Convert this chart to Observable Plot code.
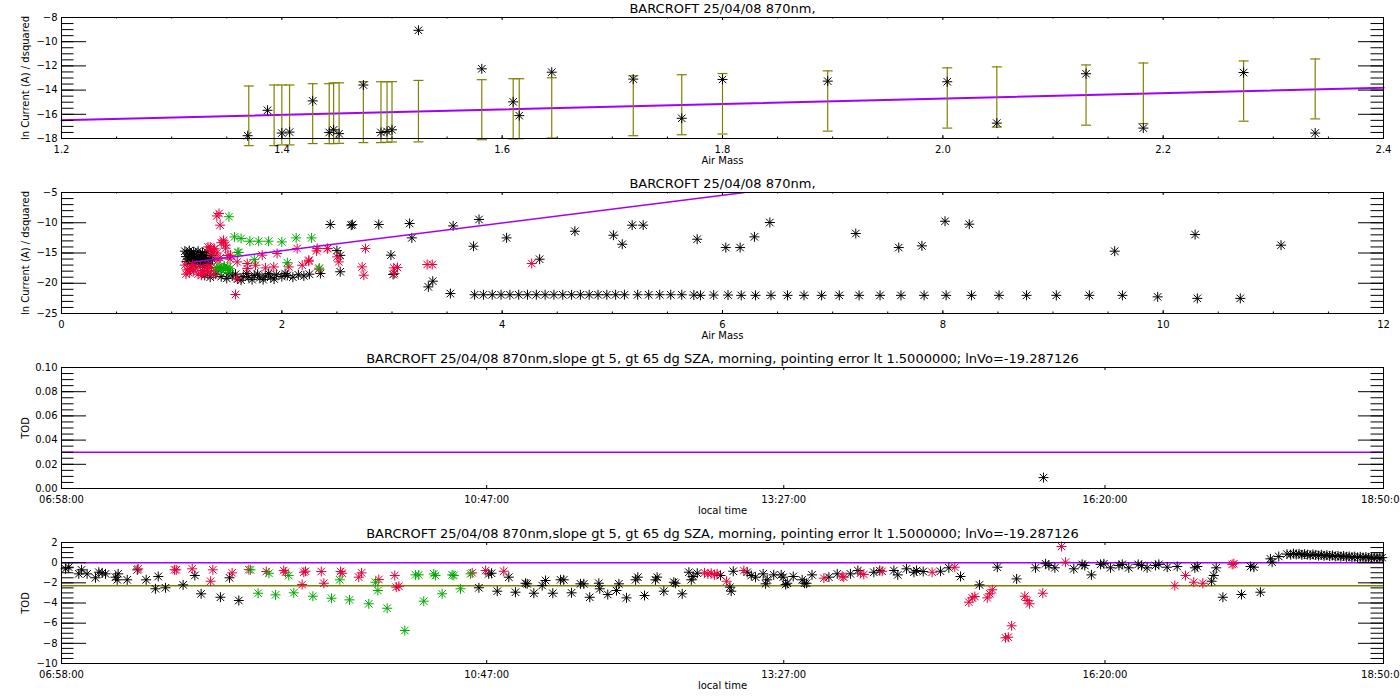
<!DOCTYPE html>
<html><head><meta charset="utf-8">
<script src="https://cdn.jsdelivr.net/npm/d3@7"></script>
<script src="https://cdn.jsdelivr.net/npm/@observablehq/plot@0.6"></script>
<style>
body{margin:0;background:#fff;}
#chart{position:relative;width:1400px;height:700px;overflow:hidden;background:#fff;}
#chart svg{position:absolute;left:0;}
</style></head><body><div id="chart"></div>
<script>
// ---------- texts ----------
const title1 = "BARCROFT 25/04/08 870nm,";
const title3 = "BARCROFT 25/04/08 870nm,slope gt 5, gt 65 dg SZA, morning, pointing error lt 1.5000000; lnVo=-19.287126";
const yLabelA = "ln Current (A) / dsquared";
const yLabelB = "TOD";
const xLabelA = "Air Mass";
const xLabelB = "local time";

// ---------- ticks ----------
const p1XTicks = [1.2, 1.4, 1.6, 1.8, 2.0, 2.2, 2.4];
const p1YTicks = [-18, -16, -14, -12, -10, -8];
const p2XTicks = [0, 2, 4, 6, 8, 10, 12];
const p2YTicks = [-25, -20, -15, -10, -5];
const p3YTicks = [0.00, 0.02, 0.04, 0.06, 0.08, 0.10];
const p4YTicks = [-10, -8, -6, -4, -2, 0, 2];
const timeTicks = [418, 647, 807, 980, 1130]; // minutes: 06:58, 10:47, 13:27, 16:20, 18:50

// ---------- panel 1: air mass vs ln current, with error bars ----------
const p1Points = [[1.369,-17.77],[1.387,-15.67],[1.400,-17.55],[1.407,-17.47],[1.428,-14.89],[1.443,-17.50],[1.447,-17.28],[1.452,-17.60],[1.474,-13.58],[1.490,-17.50],[1.4955,-17.42],[1.500,-17.28],[1.524,-9.06],[1.5815,-12.24],[1.610,-14.97],[1.6155,-16.11],[1.645,-12.52],[1.719,-13.09],[1.763,-16.33],[1.800,-13.12],[1.8955,-13.26],[2.004,-13.31],[2.049,-16.73],[2.130,-12.65],[2.182,-17.14],[2.273,-12.55],[2.338,-17.55]];
const p1BarAir = [1.370,1.393,1.400,1.407,1.428,1.443,1.447,1.452,1.474,1.490,1.4955,1.500,1.524,1.5815,1.610,1.6155,1.645,1.719,1.763,1.800,1.8955,2.004,2.049,2.130,2.182,2.273,2.338];
const p1BarHi = [-13.66,-13.58,-13.58,-13.58,-13.47,-13.47,-13.40,-13.40,-13.31,-13.31,-13.31,-13.30,-13.20,-13.14,-13.06,-13.06,-12.98,-12.82,-12.73,-12.63,-12.41,-12.16,-12.08,-11.92,-11.76,-11.59,-11.43];
const p1BarLo = [-18.59,-18.59,-18.53,-18.53,-18.42,-18.42,-18.42,-18.40,-18.34,-18.34,-18.31,-18.29,-18.28,-18.10,-18.04,-18.02,-17.96,-17.77,-17.69,-17.63,-17.39,-17.14,-17.06,-16.90,-16.77,-16.57,-16.38];
const p1FitAir = [1.2, 2.4];
const p1FitLn = [-16.50, -13.80];

// ---------- panel 2: air mass vs ln current, all data ----------
const p2Black = [
 [1.14,-15.0],[1.16,-15.3],[1.18,-15.1],[1.20,-15.5],[1.22,-15.2],[1.24,-15.6],[1.26,-15.3],[1.28,-15.8],[1.30,-15.4],[1.32,-15.9],
 [1.15,-16.0],[1.17,-16.3],[1.19,-15.8],[1.21,-16.4],[1.23,-16.0],[1.25,-16.5],[1.27,-16.1],[1.29,-16.6],[1.31,-16.2],[1.33,-16.7],
 [1.35,-16.3],[1.13,-15.6],[1.37,-16.0],[1.18,-16.8],[1.26,-16.9],
 [1.12,-14.7],[1.16,-14.6],[1.20,-14.8],[1.24,-14.7],[1.28,-14.9],[1.32,-14.8],[1.14,-16.4],[1.22,-16.7],[1.30,-16.9],[1.36,-15.4],
 [1.30,-18.7],[1.35,-19.0],[1.40,-18.5],[1.45,-18.9],[1.50,-19.2],[1.55,-18.8],[1.60,-19.3],[1.65,-18.9],[1.70,-19.0],[1.75,-18.7],
 [1.80,-19.1],[1.85,-18.8],[1.90,-19.0],[1.95,-18.6],[2.00,-18.9],[2.05,-18.7],[2.10,-19.0],[2.15,-18.6],[2.20,-18.8],[2.25,-18.5],
 [1.58,-18.5],[1.68,-18.4],[1.78,-18.5],[1.88,-18.4],[2.03,-18.4],[1.52,-18.3],[1.63,-19.5],[1.73,-19.4],[1.83,-19.4],[1.93,-19.3],
 [2.44,-10.29],[2.63,-10.40],[2.64,-10.30],[2.88,-10.29],[3.16,-10.12],[3.18,-12.50],[2.50,-14.6],[2.53,-15.4],[2.53,-18.1],
 [2.99,-15.36],[2.35,-18.39],[3.01,-18.55],[3.33,-20.60],[3.37,-19.66],[3.53,-21.70],[3.555,-10.52],[3.79,-9.46],[3.74,-13.88],
 [4.04,-12.50],[4.34,-16.03],[4.66,-11.40],[5.01,-12.06],[5.09,-13.55],[5.18,-10.40],[5.28,-10.40],[5.77,-12.72],[6.03,-14.10],
 [6.16,-14.10],[6.29,-12.33],[6.43,-9.96],[7.21,-11.78],[7.60,-14.10],[7.81,-13.82],[8.02,-9.75],[8.24,-10.24],[9.56,-14.70],
 [10.29,-11.95],[11.07,-13.71],
 [3.75,-21.9],[3.83,-21.9],[3.91,-21.9],[3.99,-21.9],[4.07,-21.9],[4.15,-21.9],[4.23,-21.9],[4.31,-21.9],[4.39,-21.9],[4.47,-21.9],
 [4.55,-21.9],[4.63,-21.9],[4.71,-21.9],[4.79,-21.9],[4.87,-21.9],[4.95,-21.9],[5.03,-21.9],[5.11,-21.9],[5.23,-21.9],[5.33,-21.9],
 [5.43,-21.9],[5.53,-21.9],[5.63,-21.9],[5.74,-21.95],
 [5.80,-22.0],[5.92,-21.95],[6.05,-21.95],[6.17,-22.0],[6.30,-22.0],[6.44,-22.0],[6.59,-22.0],[6.74,-22.0],[6.90,-22.0],[7.06,-22.0],
 [7.24,-22.0],[7.43,-22.0],[7.62,-22.0],[7.83,-22.0],[8.03,-22.0],[8.26,-22.0],[8.51,-22.0],[8.76,-22.0],[9.03,-22.0],[9.33,-22.0],
 [9.63,-22.0],[9.95,-22.25],[10.31,-22.5],[10.70,-22.5]
];
const p2Red = [
 [1.12,-17.0],[1.14,-17.8],[1.16,-18.3],[1.18,-17.3],[1.20,-18.0],[1.22,-17.5],[1.24,-18.5],[1.26,-17.2],[1.28,-17.9],[1.30,-18.4],
 [1.32,-17.6],[1.34,-18.1],[1.36,-17.4],[1.38,-18.6],[1.13,-18.5],[1.19,-16.9],[1.27,-18.7],[1.33,-16.9],[1.40,-17.9],[1.17,-17.6],
 [1.33,-14.0],[1.35,-14.6],[1.37,-15.2],[1.39,-14.3],[1.41,-15.0],[1.45,-13.3],[1.47,-12.9],[1.49,-14.2],[1.51,-15.4],[1.53,-16.0],
 [1.44,-15.8],[1.42,-16.2],[1.35,-14.0],[1.38,-14.5],[1.47,-13.2],[1.49,-13.7],
 [1.43,-8.47],[1.41,-8.87],[1.44,-10.4],
 [1.534,-15.36],[1.595,-16.47],[1.686,-16.74],[1.761,-17.02],[1.822,-15.36],[1.957,-15.08],[2.139,-14.26],[2.245,-16.19],
 [2.321,-14.26],[2.412,-14.26],[2.517,-16.47],[2.759,-14.26],[1.686,-17.57],[1.852,-17.46],[1.927,-17.30],[2.063,-17.30],
 [2.185,-17.02],[2.336,-17.68],[2.502,-15.64],[2.729,-17.30],[2.744,-18.67],[3.016,-17.46],[3.022,-18.39],[3.319,-16.90],
 [3.365,-16.90],[1.579,-21.86],[1.595,-19.21],[4.268,-16.74],[2.245,-16.36],[2.315,-14.65],[2.417,-14.26],[3.05,-17.40]
];
const p2Green = [
 [1.52,-9.0],[1.57,-12.34],[1.63,-12.6],[1.71,-13.05],[1.79,-13.05],[1.88,-13.05],[2.00,-13.17],[2.13,-12.5],[2.27,-12.5],
 [1.61,-14.9],[1.75,-16.1],[2.05,-16.6],[2.34,-17.5],[1.60,-14.92],
 [1.41,-17.5],[1.43,-17.3],[1.45,-17.8],[1.47,-17.4],[1.49,-17.7],[1.51,-17.3],[1.53,-17.6],[1.44,-17.6],[1.48,-17.2],[1.52,-17.9]
];
const p2FitAir = [1.2, 6.2];
const p2FitLn = [-16.47, -5.0];

// ---------- panel 3: local time vs TOD ----------
const p3Points = [[946.9, 0.009]];
const p3Level = [0.03];

// ---------- panel 4: local time vs TOD ----------
const p4Black = [
 [420.2,-0.61],[421.9,-0.45],[427.3,-1.11],[428.8,-0.71],[431.8,-1.11],[436.3,-1.50],[438.1,-0.95],[439.9,-1.01],[441.7,-1.11],
 [447.1,-1.44],[448.5,-1.11],[448.0,-1.70],[453.4,-1.70],[458.8,-0.71],[463.6,-1.70],[468.6,-2.59],[470.1,-1.37],[474.0,-2.49],
 [483.5,-2.20],[489.8,-1.27],[493.2,-3.09],[503.6,-3.43],[508.5,-1.50],[513.5,-3.75],[642.8,-2.49],[648.1,-1.11],[649.6,-1.05],
 [652.7,-2.83],[658.9,-1.44],[662.5,-2.93],[667.9,-2.04],[668.8,-2.10],[672.4,-3.03],[676.9,-2.27],[678.7,-1.77],[682.6,-3.03],
 [686.8,-1.70],[688.5,-1.70],[692.7,-2.99],[697.5,-2.10],[699.3,-2.10],[702.5,-3.43],[707.4,-2.04],[707.9,-2.59],[712.2,-3.16],
 [716.9,-2.76],[718.2,-2.10],[722.3,-3.49],[727.2,-1.70],[728.4,-1.44],[732.0,-3.26],[737.9,-1.70],[738.8,-1.44],[742.4,-2.83],
 [747.8,-1.94],[748.7,-2.04],[752.3,-3.09],[755.9,-0.95],[757.2,-1.70],[758.2,-1.37],[760.4,-1.05],[772.9,-1.27],[778.0,-2.43],
 [778.7,-2.83],[779.8,-0.85],[787.3,-0.95],[789.5,-1.27],[791.8,-1.44],[795.9,-1.11],[797.2,-2.10],[798.1,-1.70],[801.6,-1.21],
 [805.6,-1.21],[806.7,-1.44],[808.0,-2.17],[808.9,-2.04],[812.1,-1.37],[816.9,-1.70],[818.2,-2.04],[819.3,-2.04],[822.2,-1.21],
 [831.3,-1.44],[835.8,-1.11],[842.9,-1.11],[846.9,-0.78],[855.5,-0.95],[858.7,-0.78],[866.3,-0.78],[868.4,-1.21],[873.1,-0.61],
 [877.1,-0.95],[878.5,-0.78],[882.1,-0.88],[891.4,-0.85],[895.9,-0.51],[902.2,-1.37],[912.4,-2.20],[922.0,-0.45],[932.4,-1.61],
 [942.6,-0.51],[948.0,-0.11],[949.8,-0.28],[953.0,-0.51],[963.2,-0.61],[967.7,-0.17],[969.1,-0.28],[972.7,-1.21],[977.6,-0.17],
 [979.4,-0.11],[983.0,-0.51],[987.5,-0.28],[989.3,-0.17],[992.8,-0.51],[997.9,-0.17],[999.7,-0.28],[1002.7,-0.51],[1007.2,-0.28],
 [1009.0,-0.17],[1013.5,-0.45],[1018.9,-0.38],[1028.4,-0.51],[1029.7,-0.38],[1037.4,-1.84],[1038.6,-1.27],[1039.9,-0.51],
 [1043.5,-3.43],[1053.5,-3.16],[1058.4,-0.38],[1060.2,-0.45],[1063.7,-2.93],[1069.1,0.38],[1070.0,0.05],[1073.6,0.61],
 [1078.0,0.85],[1080.0,0.80],[1081.5,0.90],[1083.0,0.82],[1084.5,0.88],[1086.0,0.78],[1087.5,0.85],[1089.0,0.80],[1090.5,0.74],
 [1092.0,0.82],[1093.5,0.76],[1095.0,0.70],[1096.5,0.78],[1098.0,0.68],[1099.5,0.74],[1101.0,0.66],[1102.5,0.72],[1104.0,0.62],
 [1105.5,0.68],[1107.0,0.60],[1108.5,0.66],[1110.0,0.58],[1111.5,0.62],[1113.0,0.55],[1114.5,0.60],[1116.0,0.52],[1117.5,0.58],
 [1119.0,0.50],[1120.5,0.56],[1122.0,0.48],[1123.5,0.54],[1125.0,0.47],[1126.5,0.52],[1128.0,0.46],[1129.3,0.50]
];
const p4Red = [
 [459.3,-0.61],[478.9,-0.71],[479.8,-0.71],[488.4,-0.61],[498.3,-1.84],[499.5,-0.71],[509.9,-1.01],[518.9,-0.69],[528.3,-0.88],
 [537.7,-0.78],[538.6,-0.95],[547.6,-2.17],[548.5,-0.95],[549.4,-0.85],[557.9,-0.88],[559.3,-2.04],[568.3,-0.88],[569.2,-1.05],
 [578.1,-1.44],[579.6,-1.01],[588.9,-1.67],[597.5,-1.27],[598.3,-2.43],[599.7,-2.34],[639.2,-1.01],[646.4,-0.78],[656.2,-0.85],
 [764.3,-1.01],[766.1,-1.11],[767.9,-1.05],[769.7,-1.21],[771.1,-1.11],[776.2,-1.84],[785.5,-0.78],[828.6,-1.54],[838.5,-1.34],
 [839.3,-1.44],[848.3,-1.05],[850.1,-1.17],[860.0,-0.85],[886.9,-0.95],[899.1,-0.45],[906.7,-3.92],[908.5,-3.49],[909.9,-3.36],
 [916.6,-3.49],[918.0,-3.09],[919.3,-2.69],[926.4,-7.45],[927.9,-7.39],[929.7,-6.26],[936.8,-3.33],[938.1,-3.75],[939.4,-4.08],
 [946.5,-3.03],[956.6,1.60],[958.7,0.05],[1017.6,-2.27],[1023.4,-1.27],[1027.8,-1.94],[1032.7,-2.04],[1048.5,-0.17],[1049.4,-0.11]
];
const p4Green = [
 [519.8,-0.71],[529.7,-1.05],[540.4,-1.27],[523.9,-3.03],[533.3,-3.19],[543.1,-2.99],[553.4,-3.33],[563.4,-3.53],[573.1,-3.69],
 [583.5,-4.08],[593.4,-4.52],[567.9,-1.70],[587.1,-1.94],[588.4,-2.76],[602.9,-6.73],[608.7,-1.21],[610.4,-1.21],[613.1,-3.82],
 [618.5,-1.11],[619.4,-1.27],[623.0,-3.09],[628.4,-1.21],[629.3,-1.27],[632.9,-2.59],[638.3,-1.11]
];
const p4Levels = [0, -2.29];

// ---------- styling ----------
const PURPLE = "#a000ff", OLIVE = "#808000", RED = "#e8003a", GREEN = "#00aa00";
const asterisk = {draw(ctx, size) {
  const r = Math.sqrt(size / Math.PI), d = r * 0.75;
  ctx.moveTo(0, -r); ctx.lineTo(0, r);
  ctx.moveTo(-r, 0); ctx.lineTo(r, 0);
  ctx.moveTo(-d, -d); ctx.lineTo(d, d);
  ctx.moveTo(-d, d); ctx.lineTo(d, -d);
}};
const cap = {draw(ctx, size) {
  const r = Math.sqrt(size / Math.PI);
  ctx.moveTo(-r, 0); ctx.lineTo(r, 0);
}};
const stars = (data, color) => Plot.dot(data, {x: d => d[0], y: d => d[1], symbol: asterisk, r: 5, stroke: color, fill: "none", strokeWidth: 1});
const pad2 = n => String(n).padStart(2, "0");
const fmtTime = m => `${pad2(Math.floor(m / 60))}:${pad2(Math.round(m % 60))}:00`;

const W = 1400, ML = 61, MR = 17, PW = W - ML - MR;

function panel(o) {
  const PH = o.height - o.mt - o.mb;
  const marks = [
    ...o.marks,
    Plot.frame({stroke: "black"}),
    Plot.tickY(o.yMajor, {y: d => d, insetRight: PW - 25, stroke: "black"}),
    Plot.tickY(o.yMajor, {y: d => d, insetLeft: PW - 25, stroke: "black"}),
    Plot.tickY(o.yMinor, {y: d => d, insetRight: PW - 12.5, stroke: "black"}),
    Plot.tickY(o.yMinor, {y: d => d, insetLeft: PW - 12.5, stroke: "black"}),
    Plot.tickX(o.xMajor, {x: d => d, insetTop: PH - 3, stroke: "black"}),
    Plot.tickX(o.xMajor, {x: d => d, insetBottom: PH - 3, stroke: "black"}),
    Plot.tickX(o.xMinor, {x: d => d, insetTop: PH - 1.5, stroke: "black"}),
    Plot.tickX(o.xMinor, {x: d => d, insetBottom: PH - 1.5, stroke: "black"}),
    Plot.axisX({ticks: o.xMajor, tickFormat: o.xFormat, tickSize: 0, tickPadding: 7, label: null}),
    Plot.axisY({ticks: o.yMajor, tickFormat: o.yFormat, tickSize: 0, tickPadding: 4, label: null}),
    Plot.text([o.title], {text: d => d, frameAnchor: "top", dy: -9, textAnchor: "middle", lineAnchor: "middle", fontSize: 13}),
    Plot.text([o.xLabel], {text: d => d, frameAnchor: "bottom", dy: 22, textAnchor: "middle", lineAnchor: "middle", fontSize: 10}),
    Plot.text([o.yLabel], {text: d => d, frameAnchor: "left", dx: -36, rotate: -90, textAnchor: "middle", lineAnchor: "middle", fontSize: 10})
  ];
  const svg = Plot.plot({
    width: W, height: o.height,
    marginTop: o.mt, marginBottom: o.mb, marginLeft: ML, marginRight: MR,
    x: {domain: o.xDomain}, y: {domain: o.yDomain},
    style: {fontFamily: "DejaVu Sans, sans-serif", fontSize: "10px", background: "white", color: "black"},
    marks
  });
  svg.style.top = o.top + "px";
  return svg;
}

const chart = document.getElementById("chart");

// Panel 1
const p1Bars = p1BarAir.map((a, i) => ({a, lo: p1BarLo[i], hi: p1BarHi[i]}));
const p1Fit = p1FitAir.map((a, i) => ({a, v: p1FitLn[i]}));
chart.appendChild(panel({
  top: 0, height: 172, mt: 17, mb: 34,
  xDomain: [1.2, 2.4], yDomain: [-18, -8],
  xMajor: p1XTicks, xMinor: d3.range(1.2, 2.4001, 0.05), yMajor: p1YTicks, yMinor: d3.range(-18, -7.99, 0.5),
  xFormat: d3.format(".1f"), yFormat: d => String(d).replace("-", "\u2212"),
  title: title1, xLabel: xLabelA, yLabel: yLabelA,
  marks: [
    Plot.line(p1Fit, {x: "a", y: "v", stroke: PURPLE, strokeWidth: 2}),
    Plot.ruleX(p1Bars, {x: "a", y1: "lo", y2: "hi", stroke: OLIVE, strokeWidth: 1.2}),
    Plot.dot(p1Bars, {x: "a", y: "lo", symbol: cap, r: 5, stroke: OLIVE, fill: "none", strokeWidth: 1.2}),
    Plot.dot(p1Bars, {x: "a", y: "hi", symbol: cap, r: 5, stroke: OLIVE, fill: "none", strokeWidth: 1.2}),
    stars(p1Points, "black")
  ]
}));

// Panel 2
const p2Fit = p2FitAir.map((a, i) => ({a, v: p2FitLn[i]}));
chart.appendChild(panel({
  top: 172, height: 173, mt: 20, mb: 32,
  xDomain: [0, 12], yDomain: [-25, -5],
  xMajor: p2XTicks, xMinor: d3.range(0, 12.001, 0.5), yMajor: p2YTicks, yMinor: d3.range(-25, -4.99, 1),
  xFormat: d3.format("d"), yFormat: d => String(d).replace("-", "\u2212"),
  title: title1, xLabel: xLabelA, yLabel: yLabelA,
  marks: [
    stars(p2Black, "black"),
    stars(p2Red, RED),
    stars(p2Green, GREEN),
    Plot.line(p2Fit, {x: "a", y: "v", stroke: PURPLE, strokeWidth: 1.5, clip: true})
  ]
}));

// Panel 3
chart.appendChild(panel({
  top: 345, height: 175, mt: 22, mb: 32,
  xDomain: [418, 1130], yDomain: [0, 0.1],
  xMajor: timeTicks, xMinor: [], yMajor: p3YTicks, yMinor: d3.range(0, 0.1001, 0.005),
  xFormat: fmtTime, yFormat: d3.format(".2f"),
  title: title3, xLabel: xLabelB, yLabel: yLabelB,
  marks: [
    Plot.ruleY(p3Level, {stroke: PURPLE, strokeWidth: 1.5}),
    stars(p3Points, "black")
  ]
}));

// Panel 4
chart.appendChild(panel({
  top: 520, height: 180, mt: 22, mb: 37,
  xDomain: [418, 1130], yDomain: [-10, 2],
  xMajor: timeTicks, xMinor: [], yMajor: p4YTicks, yMinor: d3.range(-10, 2.001, 0.5),
  xFormat: fmtTime, yFormat: d => String(d).replace("-", "\u2212"),
  title: title3, xLabel: xLabelB, yLabel: yLabelB,
  marks: [
    Plot.ruleY([p4Levels[0]], {stroke: PURPLE, strokeWidth: 1.5}),
    Plot.ruleY([p4Levels[1]], {stroke: OLIVE, strokeWidth: 1.5}),
    stars(p4Black, "black"),
    stars(p4Red, RED),
    stars(p4Green, GREEN)
  ]
}));
</script></body></html>
